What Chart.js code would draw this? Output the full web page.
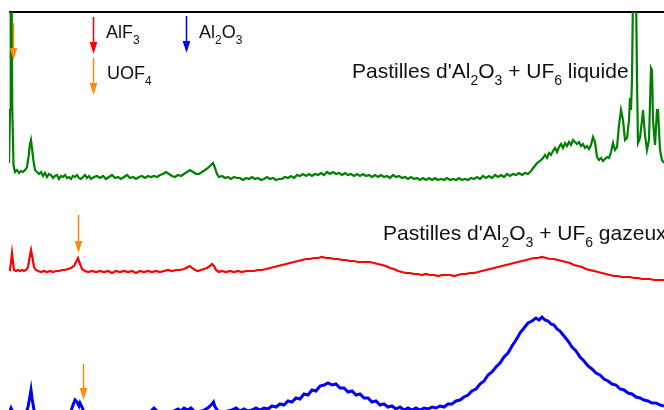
<!DOCTYPE html>
<html>
<head>
<meta charset="utf-8">
<script src="https://cdn.jsdelivr.net/npm/chart.js@4"></script>
<style>
  html, body { margin: 0; padding: 0; background: #fff; }
  #wrap { width: 664px; height: 410px; position: relative; }
</style>
</head>
<body>
<div id="wrap"><canvas id="spectra"></canvas></div>
<script>
// spectra: [position, intensity]
const liquideSpectrum = [
  [9,247],[10,300],[10.7,420],[11.6,420],[12.3,300],[13.5,245],[15,238],[17,240],[19,237],[21,239],[23,238],[25,240],[27,243],[28.5,253],[30,266],[31,270],[32,262],[33.5,249],[35,240],[37,238],[39,236],[41,238],[43,234],[45,237],[47,233],[49,236],[51,235],[53,232],[55,234],[57,235],[59,231],[61,234],[63,233],[65,235],[67,232],[69,233],[71,231],[73,234],[75,233],[77,235],[79,232],[81,231],[83,233],[85,235],[87,232],[89,234],[91,231],[94,233],[97,234],[100,232],[103,234],[106,231],[109,233],[112,235],[115,232],[118,233],[121,231],[124,233],[127,235],[130,232],[133,233],[136,231],[139,233],[142,234],[145,232],[148,234],[151,233],[154,234],[157,233],[160,235],[163,236],[166,238],[169,236],[172,234],[175,233],[178,235],[181,234],[184,236],[187,238],[190,240],[193,238],[196,236],[199,236],[202,238],[205,240],[208,242],[211,245],[213,247],[215,242],[217,236],[219,233],[222,234],[225,232],[228,233],[231,231],[234,233],[237,232],[240,232],[243,230],[246,232],[249,231],[252,233],[255,231],[258,232],[261,230],[264,231],[267,233],[270,231],[273,232],[276,230],[279,231],[282,231],[285,233],[288,232],[291,234],[294,232],[297,235],[300,234],[303,236],[306,234],[309,236],[312,234],[315,236],[318,235],[321,237],[324,235],[327,238],[330,236],[333,238],[336,236],[339,237],[342,235],[345,237],[348,235],[351,236],[354,234],[357,236],[360,234],[363,236],[366,234],[369,235],[372,233],[375,235],[378,233],[381,235],[384,233],[387,234],[390,232],[393,235],[396,233],[399,234],[402,232],[405,233],[408,231],[411,233],[414,231],[417,232],[420,230],[423,232],[426,230],[429,232],[432,230],[435,232],[438,230],[441,231],[444,230],[447,232],[450,230],[453,231],[456,230],[459,232],[462,230],[465,231],[468,230],[471,232],[474,231],[477,233],[480,231],[483,234],[486,232],[489,234],[492,232],[495,235],[498,233],[501,235],[504,233],[507,236],[510,234],[513,236],[516,235],[519,237],[522,235],[525,237],[528,236],[531,239],
  [534,243],[537,247],[540,249],[543,252],[545,255],[547,252],[549,257],[551,255],[553,259],[555,262],[557,258],[559,263],[561,266],[563,262],[565,267],[567,264],[569,268],[571,265],[573,270],[575,268],[577,266],[579,268],[581,264],[583,266],[585,262],[587,264],[589,261],[591,265],[593,273],[595,268],[597,253],[599,250],[601,252],[603,249],[605,251],[607,253],[609,252],[611,258],[613,267],[615,260],[617,263],[619,285],[621,300],[623,290],[625,270],[627,272],[629,290],[630,312],[631,300],[632,330],[633,420],[636,420],[637,330],[638,267],[640,272],[642,290],[643,300],[645,275],[647,260],[649,270],[651,342],[652,340],[653,290],[655,265],[657,300],[658,300],[660,260],[662,250],[664,247]
];

const gazeuxSpectrum = [
  [8,141],[10,140],[11,148],[12,157],[13,148],[14,140],[16,139],[18,140],[20,139],[22,140],[24,139],[26,140],[28,143],[29.5,152],[31,160],[32.5,152],[34,143],[36,140],[38,139],[41,138],[44,139],[47,138],[50,139],[53,138],[56,139],[59,139],[62,140],[65,140],[68,141],[71,142],[74,144],[76,148],[78,152],[80,146],[82,141],[85,139],[88,138],[92,139],[96,138],[100,139],[104,138],[108,139],[112,137],[116,139],[120,138],[124,139],[128,138],[132,139],[136,137],[140,139],[144,138],[148,139],[152,138],[156,139],[160,138],[164,139],[168,140],[172,139],[176,140],[180,140],[184,141],[188,143],[190,144],[192,142],[195,140],[198,139],[201,140],[204,141],[207,142],[210,144],[212,146],[214,144],[216,140],[219,138],[222,139],[226,138],[230,139],[234,138],[238,139],[242,138],[246,139],[250,139],[254,139],[258,140],[262,140],[266,141],[270,142],[274,143],[278,144],[282,145],[286,146],[290,147],[294,148],[298,149],[302,150],[306,151],[310,151],[314,152],[318,152],[322,153],[326,152],[330,152],[334,151],[338,151],[342,150],[346,150],[350,149],[354,149],[358,148],[362,148],[366,148],[370,148],[374,147],[378,146],[382,145],[386,144],[390,142],[394,141],[398,139],[402,138],[406,137],[410,137],[414,136],[418,136],[422,135],[426,136],[430,135],[434,135],[438,134],[442,135],[446,135],[450,135],[454,134],[458,135],[462,136],[466,136],[470,137],[474,137],[478,138],[482,139],[486,140],[490,141],[494,142],[498,143],[502,144],[506,145],[510,146],[514,147],[518,148],[522,149],[526,150],[530,151],[534,152],[538,152],[542,153],[546,152],[550,151],[554,151],[558,150],[562,149],[566,148],[570,147],[574,145],[578,144],[582,143],[586,141],[590,140],[594,139],[598,138],[602,137],[606,136],[610,135],[614,134],[618,134],[622,133],[626,133],[630,133],[634,132],[638,132],[642,131],[646,131],[650,131],[654,130],[658,130],[662,130],[664,130]
];

const pastillesSpectrum = [
  [9,-3],[11,2],[13,-2],[16,-6],[22,-6],[26,-3],[28,3],[30,14],[31,20],[32,12],[34,0],[36,-6],[45,-8],[60,-8],[68,-5],[71,-1],[73,5],[75,10],[77,8],[79,4],[80,7],[82,3],[84,-2],[88,-7],[110,-8],[140,-5],[150,-2],[154,2],[157,-1],[162,-3],[172,-2],[178,1],[181,-1],[184,2],[188,0],[191,2],[195,-2],[202,-1],[206,1],[209,3],[212,6],[213.5,8],[215,3],[218,-1],[224,-2],[232,0],[236,2],
  [240,-1],[244,1],[248,-1],[252,0],[256,2],[260,0],[264,2],[268,1],[272,4],[276,3],[280,6],[284,5],[288,9],[292,8],[296,12],[300,11],[304,16],[308,15],[312,20],[316,19],[320,24],[324,25],[328,27],[332,25],[336,26],[340,22],[344,22],[348,18],[352,19],[356,15],[360,16],[364,12],[368,12],[372,8],[376,9],[380,5],[384,6],[388,3],[392,4],[396,1],[400,3],[404,0],[408,2],[412,0],[416,2],[420,0],[424,2],[428,1],[432,3],[436,2],[440,4],[444,3],[448,6],[452,6],[456,9],[460,10],[464,13],[468,15],[472,19],[476,21],[480,26],[484,29],[488,35],[492,38],[496,43],[500,47],[504,53],[508,57],[512,64],[516,70],[520,77],[524,82],[528,87],[532,89],[536,92],[539,90],[542,93],[545,90],[548,89],[551,86],[554,85],[557,81],[560,79],[564,74],[568,69],[572,63],[576,59],[580,53],[584,49],[588,44],[592,41],[596,37],[600,35],[604,31],[608,29],[612,26],[616,25],[620,21],[624,20],[628,17],[632,16],[636,13],[640,12],[644,10],[648,9],[652,7],[656,7],[660,5],[664,4]
];

// phase markers: position, arrow tail, arrow tip (same units as the spectra)
const markerX    = [13, 93, 93, 186, 78, 83];
const markerTail = [387, 393, 352, 394, 195, 46];
const markerTip  = [350, 356, 315, 357, 157, 10];
const markerKind = ['UOF4', 'AlF3', 'UOF4', 'Al2O3', 'UOF4', 'UOF4'];
const kindColor = { UOF4: '#ff8a10', AlF3: '#ff0000', Al2O3: '#0000ff' };

// text labels: pieces flagged true are subscripts
const legendTexts = [
  { x: 106, y: 372, size: 18, parts: [['AlF', false], ['3', true]] },
  { x: 199, y: 372, size: 18, parts: [['Al', false], ['2', true], ['O', false], ['3', true]] },
  { x: 107, y: 331, size: 18, parts: [['UOF', false], ['4', true]] },
  { x: 352, y: 332, size: 21, parts: [["Pastilles d'Al", false], ['2', true], ['O', false], ['3', true], [' + UF', false], ['6', true], [' liquide', false]] },
  { x: 383, y: 170, size: 21, parts: [["Pastilles d'Al", false], ['2', true], ['O', false], ['3', true], [' + UF', false], ['6', true], [' gazeux', false]] }
];

const toXY = arr => arr.map(p => ({ x: p[0], y: p[1] }));

const frame = {
  id: 'frame',
  beforeDatasetsDraw(chart) {
    const { ctx, chartArea } = chart;
    ctx.save();
    ctx.strokeStyle = '#000';
    ctx.lineWidth = 2;
    ctx.beginPath();
    ctx.moveTo(chartArea.left, chartArea.top);
    ctx.lineTo(chartArea.right + 5, chartArea.top);
    ctx.stroke();
    ctx.restore();
  },
  afterDatasetsDraw(chart) {
    const { ctx, scales: { x, y } } = chart;
    ctx.save();
    markerX.forEach((mx, i) => {
      const col = kindColor[markerKind[i]];
      const px = Math.round(x.getPixelForValue(mx)) + 0.5;
      const y0 = y.getPixelForValue(markerTail[i]);
      const y1 = y.getPixelForValue(markerTip[i]);
      ctx.strokeStyle = col;
      ctx.fillStyle = col;
      ctx.lineWidth = 1.5;
      ctx.beginPath();
      ctx.moveTo(px, y0);
      ctx.lineTo(px, y1 - 10);
      ctx.stroke();
      ctx.beginPath();
      ctx.moveTo(px - 3.8, y1 - 12);
      ctx.lineTo(px + 3.8, y1 - 12);
      ctx.lineTo(px, y1);
      ctx.closePath();
      ctx.fill();
    });
    ctx.fillStyle = '#111';
    ctx.textBaseline = 'alphabetic';
    legendTexts.forEach(t => {
      let cx = x.getPixelForValue(t.x);
      const by = y.getPixelForValue(t.y);
      const subSize = Math.round(t.size * 0.66);
      t.parts.forEach(([txt, sub]) => {
        ctx.font = (sub ? subSize : t.size) + 'px "Liberation Sans", Arial, sans-serif';
        ctx.fillText(txt, cx, sub ? by + t.size * 0.35 : by);
        cx += ctx.measureText(txt).width;
      });
    });
    ctx.restore();
  }
};

new Chart(document.getElementById('spectra'), {
  type: 'line',
  data: {
    datasets: [
      { label: "Al2O3 + UF6 liquide", data: toXY(liquideSpectrum), borderColor: '#008000', borderWidth: 2.2 },
      { label: "Al2O3 + UF6 gazeux", data: toXY(gazeuxSpectrum), borderColor: '#ff0000', borderWidth: 2.2 },
      { label: "Al2O3", data: toXY(pastillesSpectrum), borderColor: '#0000ff', borderWidth: 3 }
    ]
  },
  options: {
    responsive: true,
    maintainAspectRatio: false,
    animation: false,
    layout: { padding: { left: 9, top: 12, right: 0, bottom: 0 } },
    elements: { point: { radius: 0 }, line: { tension: 0, fill: false } },
    plugins: { legend: { display: false }, tooltip: { enabled: false } },
    scales: {
      x: { type: 'linear', min: 9, max: 664, display: false },
      y: { min: 0, max: 398, display: false }
    }
  },
  plugins: [frame]
});
</script>
</body>
</html>
